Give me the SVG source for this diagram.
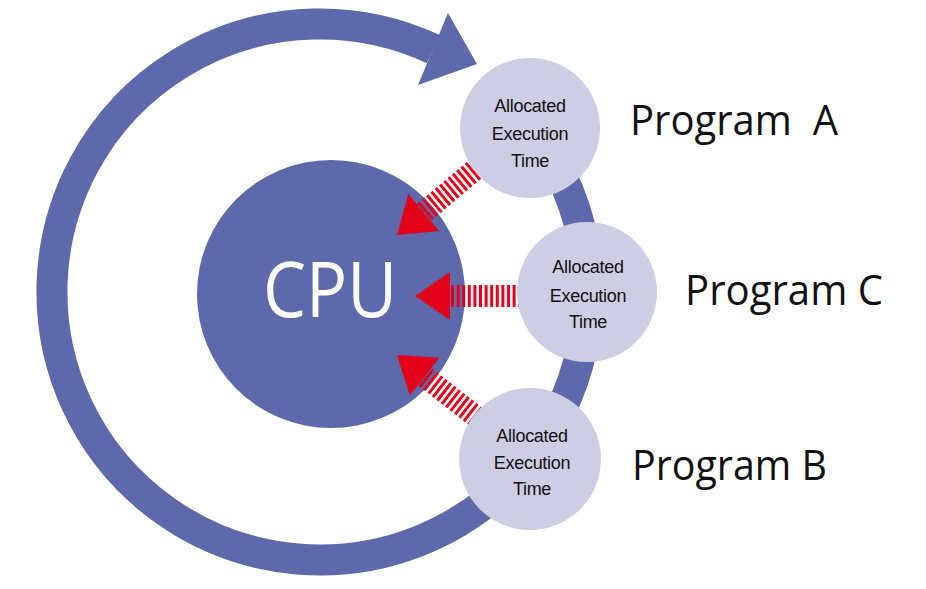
<svg xmlns="http://www.w3.org/2000/svg" xmlns:xlink="http://www.w3.org/1999/xlink" width="926" height="589" viewBox="0 0 926 589">
  <style>
    .ring { fill: none; stroke: #5E69AB; stroke-width: 31; }
    .blue { fill: #5E69AB; }
    .node { fill: #CDCDE3; }
    .red { fill: #E2001A; }
    .stripes { stroke: #E2001A; stroke-width: 22; stroke-dasharray: 3 2.6; fill: none; }
    .lbl { font-family: "Liberation Sans", Arial, sans-serif; font-size: 18px; fill: #111; text-anchor: middle; letter-spacing: -0.3px; }
    .prog { font-family: "Open Sans", "Noto Sans", sans-serif; font-size: 42px; fill: #111; }
    .cpu { font-family: "Open Sans", "Noto Sans", sans-serif; font-size: 77px; fill: #fff; text-anchor: middle; }
  </style>
  <defs>
    <g id="redArrow">
      <line class="stripes" x1="36" y1="0" x2="106" y2="0"/>
      <polygon class="red" points="0,0 35,-24 35,24"/>
    </g>
  </defs>
  <rect width="926" height="589" fill="#fff"/>
  <g id="connectors">
    <path id="cycle" class="ring" d="M433.3,49.1 A268,268 0 1 0 509.5,102.5"/>
    <polygon class="blue" points="477,64 448,13 418,85"/>
  </g>
  <g id="cpu">
    <circle class="blue" cx="331" cy="294" r="134"/>
    <text class="cpu" x="330" y="317" textLength="134" lengthAdjust="spacingAndGlyphs">CPU</text>
  </g>
  <g id="allocation-arrows">
    <use xlink:href="#redArrow" href="#redArrow" transform="translate(397,235) rotate(-40)"/>
    <use xlink:href="#redArrow" href="#redArrow" transform="translate(415,296)"/>
    <use xlink:href="#redArrow" href="#redArrow" transform="translate(397,355) rotate(38)"/>
  </g>
  <g id="programA">
    <circle class="node" cx="530" cy="128" r="70"/>
    <text class="lbl" x="530" y="112">Allocated</text>
    <text class="lbl" x="530" y="140">Execution</text>
    <text class="lbl" x="530" y="167">Time</text>
    <text class="prog" x="630" y="135" textLength="208" lengthAdjust="spacingAndGlyphs" xml:space="preserve">Program  A</text>
  </g>
  <g id="programC">
    <circle class="node" cx="587" cy="292" r="70"/>
    <text class="lbl" x="588" y="273">Allocated</text>
    <text class="lbl" x="588" y="302">Execution</text>
    <text class="lbl" x="588" y="328">Time</text>
    <text class="prog" x="685" y="305" textLength="198" lengthAdjust="spacingAndGlyphs">Program C</text>
  </g>
  <g id="programB">
    <circle class="node" cx="530" cy="459" r="71"/>
    <text class="lbl" x="532" y="442">Allocated</text>
    <text class="lbl" x="532" y="469">Execution</text>
    <text class="lbl" x="532" y="495">Time</text>
    <text class="prog" x="632" y="480" textLength="195" lengthAdjust="spacingAndGlyphs">Program B</text>
  </g>
</svg>
